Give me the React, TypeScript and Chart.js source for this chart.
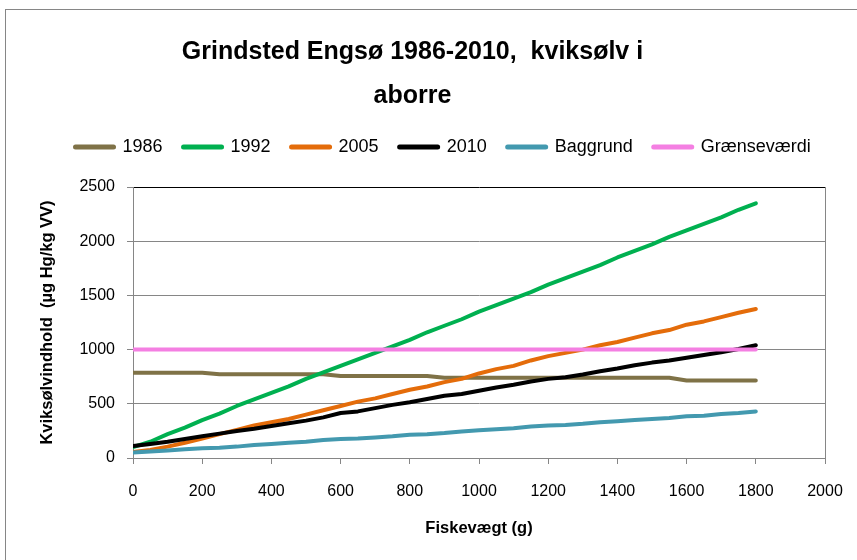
import React, { useEffect, useRef } from "react";
import { Chart, registerables } from "chart.js";

Chart.register(...registerables);

const weights = [0, 50, 100, 150, 200, 250, 300, 350, 400, 450, 500, 550, 600, 650, 700, 750, 800, 850, 900, 950, 1000, 1050, 1100, 1150, 1200, 1250, 1300, 1350, 1400, 1450, 1500, 1550, 1600, 1650, 1700, 1750, 1800];

const s1986 = [787, 787, 787, 787, 787, 772, 772, 772, 772, 772, 772, 772, 757, 757, 757, 757, 757, 757, 740, 740, 740, 740, 740, 740, 740, 740, 740, 740, 740, 740, 740, 740, 715, 715, 715, 715, 715];
const s1992 = [100, 150, 220, 280, 350, 410, 480, 540, 600, 660, 730, 790, 850, 910, 970, 1030, 1090, 1160, 1220, 1280, 1350, 1410, 1470, 1530, 1600, 1660, 1720, 1780, 1850, 1910, 1970, 2040, 2100, 2160, 2220, 2290, 2350];
const s2005 = [55, 75, 105, 140, 180, 220, 260, 300, 330, 360, 400, 440, 480, 520, 550, 590, 630, 660, 700, 730, 780, 820, 850, 900, 940, 970, 1000, 1040, 1070, 1110, 1150, 1180, 1230, 1260, 1300, 1340, 1375];
const s2010 = [110, 130, 150, 175, 200, 225, 250, 270, 295, 320, 345, 375, 415, 430, 460, 490, 515, 545, 575, 590, 620, 650, 675, 705, 730, 745, 770, 800, 825, 855, 880, 900, 925, 950, 975, 1005, 1040];
const sBaggrund = [50, 60, 70, 80, 90, 95, 105, 120, 130, 140, 150, 165, 175, 180, 190, 200, 215, 220, 230, 245, 255, 265, 275, 290, 300, 305, 315, 330, 340, 350, 360, 370, 385, 390, 405, 415, 430];
const sGraense = [1000, 1000, 1000, 1000, 1000, 1000, 1000, 1000, 1000, 1000, 1000, 1000, 1000, 1000, 1000, 1000, 1000, 1000, 1000, 1000, 1000, 1000, 1000, 1000, 1000, 1000, 1000, 1000, 1000, 1000, 1000, 1000, 1000, 1000, 1000, 1000, 1000];

const seriesNames = ["1986", "1992", "2005", "2010", "Baggrund", "Grænseværdi"];
const seriesColors = ["#7F7247", "#00B050", "#E46C0A", "#000000", "#4399AF", "#F47FE2"];
const seriesValues = [s1986, s1992, s2005, s2010, sBaggrund, sGraense];

const titleLines = ["Grindsted Engsø 1986-2010,  kviksølv i", "aborre"];
const yTitle = "Kviksølvindhold  (µg Hg/kg VV)";
const xTitle = "Fiskevægt (g)";

const LEGEND_X = 75.5;
const LEGEND_Y = 147;

const legendShift = {
  id: "legendShift",
  afterLayout(chart: any) {
    const lg = chart.legend;
    if (!lg || !lg.lineWidths) return;
    const pad = lg.options.labels.padding;
    const fontSize = lg.options.labels.font.size;
    const curX = (lg.left + pad + lg.right - lg.lineWidths[0]) / 2;
    const dx = LEGEND_X - curX;
    const curY = lg.top + pad + fontSize / 2;
    const dy = LEGEND_Y - curY;
    lg.left += dx;
    lg.right += dx;
    lg.top += dy;
    lg.bottom += dy;
  },
};

export default function App() {
  const ref = useRef<HTMLCanvasElement>(null);
  useEffect(() => {
    if (!ref.current) return;
    Chart.defaults.font.family = "'Liberation Sans', Arial, sans-serif";
    Chart.defaults.color = "#000";
    const datasets = seriesNames.map((name, i) => ({
      label: name,
      data: weights.map((w, j) => ({ x: w, y: seriesValues[i][j] })),
      borderColor: seriesColors[i],
      backgroundColor: seriesColors[i],
      borderWidth: 4,
      pointRadius: 0,
      pointHoverRadius: 0,
      pointStyle: "line",
      borderCapStyle: "round",
      borderJoinStyle: "round",
      tension: 0,
      fill: false,
      order: seriesNames.length - i,
    }));
    const chart = new Chart(ref.current, {
      type: "line",
      data: { datasets } as any,
      plugins: [legendShift],
      options: {
        responsive: false,
        animation: false,
        events: [],
        layout: { padding: { left: 0, right: 32, top: 0, bottom: 0 } },
        plugins: {
          tooltip: { enabled: false },
          title: {
            display: true,
            text: titleLines,
            color: "#000",
            font: { size: 25, weight: "bold", lineHeight: "44px" } as any,
            padding: { top: 30, bottom: 20 },
          },
          legend: {
            display: true,
            position: "top",
            labels: {
              usePointStyle: true,
              pointStyleWidth: 38,
              boxHeight: 5,
              padding: 21,
              color: "#000",
              font: { size: 18 },
              sort: (a: any, b: any) => a.datasetIndex - b.datasetIndex,
              generateLabels: (chart: any) => {
                const items = Chart.defaults.plugins.legend.labels.generateLabels(chart);
                return items.map((it: any) => ({
                  ...it,
                  pointStyle: "line",
                  lineWidth: 5,
                  lineCap: "round",
                  strokeStyle: seriesColors[it.datasetIndex],
                  fillStyle: seriesColors[it.datasetIndex],
                }));
              },
            },
          },
        },
        scales: {
          x: {
            type: "linear",
            min: 0,
            max: 2000,
            afterFit: (scale: any) => {
              scale.height = 102;
            },
            ticks: {
              stepSize: 200,
              padding: 12,
              font: { size: 16, lineHeight: "32px" } as any,
              color: "#000",
              maxRotation: 0,
              callback: (v: any) => String(v),
            },
            grid: {
              color: (ctx: any) => (ctx.tick && ctx.tick.value === 2000 ? "#868686" : "rgba(0,0,0,0)"),
              tickColor: "#868686",
              tickLength: 6,
              lineWidth: 1,
            },
            border: { color: "#868686", width: 1 },
            title: {
              display: true,
              text: xTitle,
              color: "#000",
              font: { size: 16.5, weight: "bold" },
              padding: { top: 0, bottom: 22 },
            },
          },
          y: {
            type: "linear",
            min: 0,
            max: 2500,
            afterFit: (scale: any) => {
              scale.width = 133;
            },
            ticks: {
              stepSize: 500,
              padding: 12,
              font: { size: 16 },
              color: "#000",
              callback: (v: any) => String(v),
            },
            grid: {
              color: (ctx: any) => (ctx.tick && ctx.tick.value === 2500 ? "#000000" : "#868686"),
              tickColor: "#868686",
              tickLength: 6,
              lineWidth: 1,
            },
            border: { color: "#868686", width: 1 },
            title: {
              display: true,
              text: yTitle,
              color: "#000",
              font: { size: 16.5, weight: "bold" },
              padding: { top: 38, bottom: 0 },
            },
          },
        },
      },
    } as any);
    return () => chart.destroy();
  }, []);

  return (
    <div style={{ position: "fixed", left: 0, top: 0, width: 857, height: 560, overflow: "hidden", background: "#fff" }}>
      <div style={{ position: "absolute", left: 5, top: 9, width: 900, height: 600, border: "1px solid #868686" }} />
      <canvas ref={ref} width={857} height={560} style={{ position: "absolute", left: 0, top: 0, width: 857, height: 560 }} />
    </div>
  );
}
